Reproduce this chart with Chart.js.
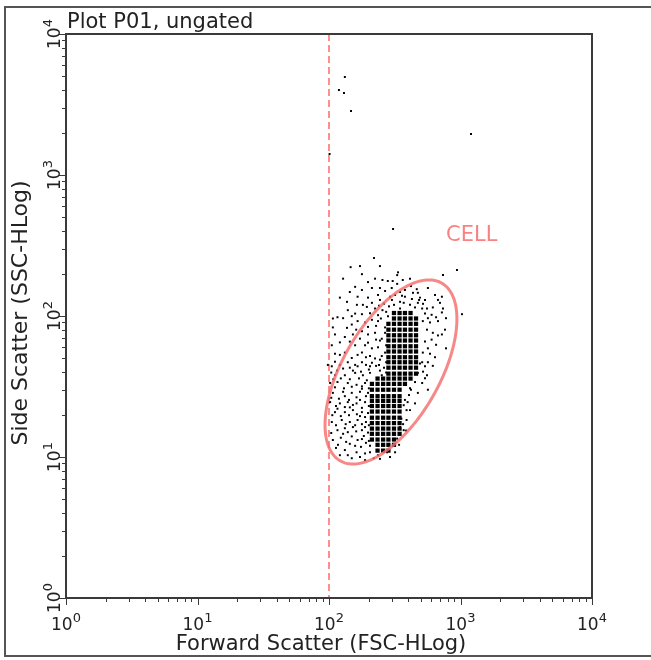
<!DOCTYPE html>
<html>
<head>
<meta charset="utf-8">
<script src="https://cdn.jsdelivr.net/npm/chart.js@4/dist/chart.umd.min.js"></script>
<style>
  body { margin: 0; background: #fff; }
  #wrap { width: 651px; height: 660px; }
</style>
</head>
<body>
<div id="wrap"><canvas id="grafico" width="651" height="660"></canvas></div>
<script>
// dati (scala log-log)
const plotTitle = 'Plot P01, ungated';
const xTitle = 'Forward Scatter (FSC-HLog)';
const yTitle = 'Side Scatter (SSC-HLog)';
const decadeTicks = [1, 10, 100, 1000, 10000];
const tickExponents = ['0', '1', '2', '3', '4'];
const minorSteps = [2, 3, 4, 5, 6, 7, 8, 9];
const thresholdX = 100;

// gate CELL: centro (valori) e semiassi in decadi
const gateName = 'CELL';
const gateCenter = [296, 40.1];
const gateAxisA = [0.386, 0.630];
const gateAxisB = [-0.320, 0.171];
const gateLabelAt = [776, 340];

// zona densa: colonne e righe dei bin pieni
const binCols = [212, 234, 258, 283, 312, 344, 378, 417, 459, 505];
const binRows = [105, 96, 88, 80, 73, 67, 61, 56, 51, 47, 43, 39, 36, 33, 30, 27, 25, 23, 21, 19, 17.4, 15.9, 14.6, 13.3, 12.2, 11.1];
const binSpans = [[5,8],[5,9],[4,9],[4,9],[4,9],[4,9],[4,9],[4,9],[4,9],[4,9],[4,9],[4,9],[2,8],[1,7],
                  [1,6],[1,6],[1,6],[1,6],[1,6],[1,6],[1,6],[1,6],[1,6],[1,5],[2,5],[2,4]];

// eventi isolati
const outlierEvents = [[132,4955],[119,4008],[130,3816],[147,2844],[1202,1954],[101,1409],[307,414],[220,258],[940,212],[736,195],[1026,103]];
const upperEvents = [
  [146,222],[172,226],[244,226],[128,184],[178,198],[198,174],[224,184],[255,180],[280,177],[305,177],[330,195],
  [158,161],[244,158],[300,158],[121,135],[165,137],[198,135],[236,141],[291,137],[107,96],[116,98],[139,110],
  [158,104],[181,120],[212,124],[224,113],[255,110],[107,83],[149,87],[165,92],[188,90],[212,94],[236,92],[267,83],
  [111,74],[132,71],[152,74],[178,78],[198,74],[224,76],[252,69],[105,62],[121,65],[158,62],[188,62],[212,59],
  [236,60],[267,55],[111,54],[132,55],[165,53],[191,51],[224,50],[139,47],[178,47],
  [244,130],[262,122],[272,107],[248,96],[267,76],[244,67],[272,62],[252,52],[272,47],[240,45],[262,43],[205,44],
  [286,117],[312,120],[347,113],[370,124],[451,115],[511,113],[484,130],
  [144,148],[178,153],[212,158],[267,150.5],[137,126],[163,120],[194,116],[240,118],
  [128,96.5],[149,99.7],[178,103],[205,104.7],[236,101.4],[281,99.7],[137,82.4],[161,80],[198,83.7],[228,85.1],
  [144,65.8],[172,69.1],[198,64.7],[228,68],[121,53],[149,50.4],[178,55.1],[205,52.1],[244,49],
  [111,47.4],[158,45],[212,46.6],[244,41],[272,39.7],[228,44.3],[252,38]
];
const lowerEvents = [
  [98,45],[105,44],[121,45],[144,43],[165,44],[191,45],[111,38],[132,38],[158,39.5],[181,38],[205,39.5],
  [102,33.5],[116,34],[139,33.5],[162,32.5],[188,33.5],[107,28.5],[128,29],[149,28.5],[172,29],[198,28.5],
  [102,24.5],[121,24],[139,24.5],[162,24],[188,24.5],[111,20.8],[132,20.8],[152,21.5],[178,20.8],[198,20.5],
  [105,17.7],[125,18.3],[144,17.7],[165,18.3],[191,17.7],[116,15.5],[139,15],[178,15.5],[198,14.9],
  [107,13.2],[135,12.8],[165,13.2],[191,12.6],[132,11.2],[162,10.8],[188,10.6],[236,10.3],[276,10.8],[219,9.8],[188,9.5],
  [149,31.5],[178,30.5],[132,27],[162,26.5],[191,27],[116,22],[144,22.5],[172,19.5],[158,16.8],[132,16],[188,16.3],
  [149,14],[123,13.7],[178,13.4],[205,12],[158,12],[113,11.6],[121,10.3],[149,9.8],
  [104,39.7],[115,41],[128,42.4],[152,41],[175,40.3],[201,41.7],[108,35.6],[123,36.1],[144,35.6],[169,36.1],[194,35],
  [111,31.2],[130,30.7],[178,31.7],[201,30.7],[104,26.3],[119,25.9],[142,25.4],[172,25.4],
  [113,23],[132,22.6],[152,23.4],[178,22.3],[201,23],[106,19.8],[123,19.5],[142,19.8],[163,20.1],[188,19.2],
  [113,16.8],[134,17.1],[152,16.3],[178,17.1],[201,16.8],[104,14.8],[128,14.6],[161,15.2],[184,14.1],
  [117,12.2],[144,12.4],[175,11.8],[201,13],[139,10.3],[172,10],[205,10.8],[244,9.7],[291,10]
];
const rightEvents = [
  [335,204],[364,180],[413,184],[565,158],[347,148],[378,137],[435,146],[492,135],[640,141],[722,137],
  [347,126],[413,120],[474,124],[556,113],[616,115],[698,124],[736,113],[537,104],[603,102],[652,98],[722,106],
  [517,92],[586,90],[674,92],[762,80],[556,80],[616,76],[722,74],[537,66],[603,68],[652,62.5],[517,55],[586,54],
  [640,51],[511,47],[565,47],[378,153],[420,163],[318,141],[474,146],[537,130],
  [492,46],[537,44],[474,39.5],[556,38],[451,34],[511,33.5],[565,30],[420,30],[474,28.5],[396,24.5],[451,24],
  [389,21.5],[355,18.7],[389,18.3],[347,16.3],[330,13.5],[378,32.5],[406,27.5],[370,23.3],[413,36],[370,15.5],
  [341,12.2],[318,10.8],
  [301,130],[359,139],[427,132],[519,122],[330,169],[465,155],[674,130],[776,96.5],[565,96.5],
  [674,72.8],[565,59],[776,59],[616,44.3],[519,40.3],[537,36.2],[413,30.7],[378,25.4],[413,21.5],[366,17.1],[386,15.4]
];

const FONT = 'Verdana, "DejaVu Sans", sans-serif';
const FRAME = '#3a3a3a';

(function(){
  const toXY = p => ({ x: p[0], y: p[1] });

  const bins = [];
  binSpans.forEach((s, r) => {
    for (let c = s[0]; c <= s[1]; c++) bins.push({ x: binCols[c - 1], y: binRows[r] });
  });
  const events = outlierEvents.concat(upperEvents, lowerEvents, rightEvents).map(toXY);

  function etichettaPotenza(ctx, exp, cx, base) {
    ctx.font = '17px ' + FONT;
    const w1 = ctx.measureText('10').width;
    ctx.font = '13px ' + FONT;
    const w2 = ctx.measureText(exp).width;
    const start = cx - (w1 + w2) / 2;
    ctx.font = '17px ' + FONT;
    ctx.fillText('10', start, base);
    ctx.font = '13px ' + FONT;
    ctx.fillText(exp, start + w1, base - 8);
  }

  const flowPlot = {
    id: 'flowPlot',
    beforeDatasetsDraw(chart) {
      const { ctx, chartArea: a, scales: { x } } = chart;
      const px = x.getPixelForValue(thresholdX);
      ctx.save();
      ctx.strokeStyle = 'rgba(255,105,105,0.75)';
      ctx.lineWidth = 2;
      ctx.setLineDash([7, 4]);
      ctx.beginPath();
      ctx.moveTo(px, a.top);
      ctx.lineTo(px, a.bottom);
      ctx.stroke();
      ctx.restore();
    },
    afterDatasetsDraw(chart) {
      const { ctx, scales: { x, y } } = chart;
      const lx0 = Math.log10(gateCenter[0]), ly0 = Math.log10(gateCenter[1]);
      ctx.save();
      ctx.beginPath();
      for (let i = 0; i <= 240; i++) {
        const t = i / 240 * Math.PI * 2;
        const lx = lx0 + gateAxisA[0] * Math.cos(t) + gateAxisB[0] * Math.sin(t);
        const ly = ly0 + gateAxisA[1] * Math.cos(t) + gateAxisB[1] * Math.sin(t);
        const X = x.getPixelForValue(Math.pow(10, lx));
        const Y = y.getPixelForValue(Math.pow(10, ly));
        if (i === 0) ctx.moveTo(X, Y); else ctx.lineTo(X, Y);
      }
      ctx.closePath();
      ctx.strokeStyle = 'rgba(245,110,110,0.82)';
      ctx.lineWidth = 3;
      ctx.stroke();
      ctx.fillStyle = 'rgba(250,115,115,0.9)';
      ctx.font = '21px ' + FONT;
      ctx.textBaseline = 'alphabetic';
      ctx.fillText(gateName, x.getPixelForValue(gateLabelAt[0]), y.getPixelForValue(gateLabelAt[1]));
      ctx.restore();
    },
    afterDraw(chart) {
      const { ctx, chartArea: a, scales: { x, y } } = chart;
      ctx.save();
      // cornice esterna
      ctx.strokeStyle = '#555';
      ctx.lineWidth = 2;
      ctx.strokeRect(5, 7, 660, 649);
      // cornice del grafico
      ctx.strokeStyle = FRAME;
      ctx.lineWidth = 2;
      ctx.strokeRect(a.left, a.top, a.right - a.left, a.bottom - a.top);

      // tacche
      ctx.lineWidth = 1;
      ctx.beginPath();
      decadeTicks.forEach((d, i) => {
        const px = Math.round(x.getPixelForValue(d)) + 0.5;
        const py = Math.round(y.getPixelForValue(d)) + 0.5;
        ctx.moveTo(px, a.bottom); ctx.lineTo(px, a.bottom + 7);
        ctx.moveTo(a.left, py); ctx.lineTo(a.left - 7, py);
        if (i < decadeTicks.length - 1) {
          minorSteps.forEach(m => {
            const qx = Math.round(x.getPixelForValue(d * m)) + 0.5;
            const qy = Math.round(y.getPixelForValue(d * m)) + 0.5;
            ctx.moveTo(qx, a.bottom); ctx.lineTo(qx, a.bottom + 4);
            ctx.moveTo(a.left, qy); ctx.lineTo(a.left - 4, qy);
          });
        }
      });
      ctx.stroke();

      // etichette
      ctx.fillStyle = '#222';
      ctx.textBaseline = 'alphabetic';
      ctx.textAlign = 'left';
      decadeTicks.forEach((d, i) => {
        etichettaPotenza(ctx, tickExponents[i], x.getPixelForValue(d), 630);
        ctx.save();
        ctx.translate(60, y.getPixelForValue(d));
        ctx.rotate(-Math.PI / 2);
        etichettaPotenza(ctx, tickExponents[i], 0, 0);
        ctx.restore();
      });

      // titoli
      ctx.font = '21px ' + FONT;
      ctx.fillText(plotTitle, 67, 28);
      ctx.textAlign = 'center';
      ctx.textBaseline = 'middle';
      ctx.fillText(xTitle, 321, 645);
      ctx.save();
      ctx.font = '22px ' + FONT;
      ctx.translate(21, 313);
      ctx.rotate(-Math.PI / 2);
      ctx.fillText(yTitle, 0, 0);
      ctx.restore();
      ctx.restore();
    }
  };

  new Chart(document.getElementById('grafico').getContext('2d'), {
    type: 'scatter',
    data: {
      datasets: [
        { label: 'bin', data: bins, pointStyle: 'rect', pointRadius: 3.0, borderWidth: 0, backgroundColor: '#000' },
        { label: 'eventi', data: events, pointStyle: 'rect', pointRadius: 1.4, borderWidth: 0, backgroundColor: '#000' }
      ]
    },
    options: {
      responsive: false,
      animation: false,
      events: [],
      layout: { padding: { left: 66, top: 34, right: 59, bottom: 62 } },
      scales: {
        x: { type: 'logarithmic', min: 1, max: 10000, display: false },
        y: { type: 'logarithmic', min: 1, max: 10000, display: false }
      },
      plugins: { legend: { display: false }, tooltip: { enabled: false } }
    },
    plugins: [flowPlot]
  });
})();
</script>
</body>
</html>
